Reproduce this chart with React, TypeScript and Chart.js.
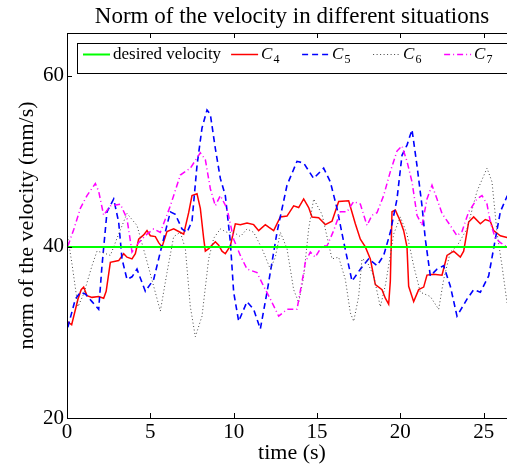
import { useEffect, useRef } from 'react';
import { Chart, registerables } from 'chart.js';

Chart.register(...registerables);

const titleText = 'Norm of the velocity in different situations';
const xTitle = 'time (s)';
const yTitle = 'norm of the velocity (mm/s)';
const seriesNames = ['desired velocity', 'C4', 'C5', 'C6', 'C7'];
const xTickValues = [0, 5, 10, 15, 20, 25];
const yTickValues = [20, 40, 60];

const desiredT = [0, 27];
const desiredV = [40, 40];

const c4T = [0, 0.28, 0.66, 0.85, 1.0, 1.2, 1.5, 1.9, 2.2, 2.35, 2.6, 3.1, 3.4, 3.6, 3.9, 4.1, 4.3, 4.6, 4.8, 5.0, 5.3, 5.5, 5.7, 6.0, 6.4, 6.7, 7.0, 7.3, 7.5, 7.8, 8.0, 8.2, 8.3, 8.5, 8.9, 9.1, 9.3, 9.5, 9.8, 10.1, 10.4, 10.8, 11.2, 11.5, 11.9, 12.1, 12.4, 12.8, 13.2, 13.6, 13.9, 14.2, 14.5, 14.7, 15.1, 15.5, 15.9, 16.3, 16.9, 17.3, 17.6, 17.9, 18.2, 18.5, 18.9, 19.1, 19.3, 19.4, 19.5, 19.7, 20.0, 20.2, 20.4, 20.5, 20.8, 21.1, 21.4, 21.6, 22.0, 22.5, 22.8, 23.2, 23.6, 23.8, 24.1, 24.4, 24.8, 25.1, 25.4, 25.6, 26.0, 26.4, 26.8];
const c4V = [31.3, 30.9, 33.9, 35.0, 35.3, 34.3, 34.1, 34.2, 34.0, 34.8, 38.2, 38.4, 39.2, 38.8, 38.6, 39.2, 40.9, 41.4, 41.9, 41.3, 41.2, 40.5, 40.0, 41.8, 42.1, 41.8, 41.5, 44.0, 46.0, 46.2, 44.5, 41.0, 39.5, 39.8, 40.6, 40.2, 39.5, 39.2, 40.1, 42.7, 42.6, 42.8, 42.6, 41.9, 42.6, 42.3, 41.9, 43.5, 43.6, 44.8, 44.6, 45.6, 44.6, 43.5, 43.4, 42.6, 43.0, 45.3, 45.4, 42.7, 40.9, 40.0, 38.6, 35.6, 35.0, 34.0, 33.3, 36.0, 44.1, 44.3, 43.0, 41.9, 40.0, 35.4, 33.6, 35.0, 35.3, 36.7, 36.8, 36.7, 39.0, 39.5, 38.8, 39.5, 42.9, 43.5, 42.7, 43.2, 43.0, 41.9, 41.3, 41.1, 41.0];

const c5T = [0.05, 0.5, 0.8, 1.1, 1.5, 1.9, 2.1, 2.4, 2.8, 3.1, 3.3, 3.6, 3.9, 4.2, 4.7, 5.2, 5.6, 6.2, 6.5, 6.9, 7.2, 7.5, 7.8, 8.1, 8.4, 8.6, 8.9, 9.2, 9.5, 9.8, 10.0, 10.3, 10.8, 11.2, 11.6, 12.0, 12.6, 13.2, 13.8, 14.2, 14.8, 15.4, 15.8, 16.2, 16.6, 17.1, 17.6, 18.1, 18.6, 19.0, 19.4, 19.8, 20.1, 20.4, 20.7, 21.0, 21.3, 21.5, 21.8, 22.2, 22.6, 23.0, 23.4, 24.0, 24.4, 24.8, 25.3, 25.7, 26.0, 26.4, 26.8];
const c5V = [30.6, 33.9, 34.7, 34.5, 33.6, 32.7, 37.8, 44.1, 45.6, 42.9, 38.6, 36.2, 36.5, 37.4, 34.8, 36.2, 39.4, 44.1, 43.8, 42.1, 41.7, 43.0, 49.5, 53.9, 56.0, 55.5, 51.5, 48.0, 46.0, 40.6, 34.7, 31.3, 33.6, 32.7, 30.4, 34.7, 41.7, 47.2, 50.0, 49.8, 48.0, 49.2, 47.6, 44.5, 40.6, 36.0, 37.4, 38.6, 37.8, 39.0, 41.7, 45.6, 50.7, 51.9, 53.7, 49.5, 44.8, 40.9, 36.6, 37.4, 37.8, 35.4, 31.9, 33.9, 35.0, 34.7, 36.6, 40.9, 44.1, 45.9, 47.0];

const c6T = [0, 0.3, 0.66, 1.0, 1.5, 1.8, 2.2, 2.6, 3.1, 3.6, 4.2, 4.7, 5.2, 5.6, 6.0, 6.4, 6.8, 7.1, 7.4, 7.7, 8.1, 8.5, 8.8, 9.2, 9.6, 10.0, 10.4, 10.8, 11.2, 11.7, 12.2, 12.5, 12.8, 13.2, 13.6, 13.9, 14.2, 14.5, 14.8, 15.3, 15.9, 16.3, 16.7, 17.0, 17.2, 17.5, 17.7, 18.0, 18.4, 18.8, 19.1, 19.4, 19.6, 20.0, 20.4, 20.8, 21.2, 21.8, 22.3, 22.6, 23.0, 23.4, 24.0, 24.6, 25.2, 25.5, 25.8, 26.1, 26.4, 26.8];
const c6V = [41.7, 38.0, 33.0, 34.5, 37.8, 39.5, 39.3, 39.0, 41.5, 43.9, 42.5, 39.0, 35.4, 32.5, 37.0, 41.2, 41.7, 39.8, 33.0, 29.5, 31.9, 38.6, 41.0, 42.1, 41.7, 41.7, 41.2, 42.1, 41.7, 39.8, 37.4, 38.8, 41.7, 39.8, 35.0, 33.5, 36.5, 42.1, 45.6, 43.8, 38.6, 38.8, 36.2, 32.3, 31.3, 34.2, 38.6, 38.3, 36.6, 33.0, 35.5, 39.0, 41.5, 43.5, 41.5, 37.8, 34.7, 34.2, 32.7, 36.2, 39.4, 40.1, 42.1, 46.5, 49.2, 47.6, 41.7, 37.8, 33.5, 31.0];

const c7T = [0.05, 0.4, 0.8, 1.2, 1.7, 1.9, 2.2, 2.6, 3.2, 3.6, 3.9, 4.3, 4.8, 5.2, 5.6, 6.2, 6.8, 7.4, 8.0, 8.3, 8.6, 8.9, 9.2, 9.6, 10.0, 10.4, 10.8, 11.4, 11.8, 12.2, 12.7, 13.2, 13.8, 14.2, 14.3, 14.6, 14.9, 15.3, 15.6, 16.0, 16.4, 16.8, 17.2, 17.6, 18.0, 18.3, 18.6, 19.0, 19.4, 19.8, 20.1, 20.4, 20.7, 21.0, 21.3, 21.6, 21.9, 22.2, 22.5, 23.0, 23.4, 23.7, 24.1, 24.6, 24.9, 25.2, 25.4, 25.7, 26.0, 26.4, 26.8];
const c7V = [40.1, 42.0, 44.5, 46.0, 47.4, 46.5, 43.7, 44.8, 45.0, 43.3, 39.4, 40.5, 41.5, 42.1, 41.7, 44.8, 48.4, 49.2, 51.0, 50.2, 46.8, 44.8, 46.0, 44.5, 40.9, 39.0, 37.4, 37.0, 35.4, 33.9, 31.9, 32.7, 32.7, 37.0, 38.2, 39.4, 38.8, 40.1, 40.1, 41.9, 44.1, 44.1, 45.3, 45.0, 42.5, 43.7, 44.0, 46.0, 48.8, 51.2, 51.8, 50.0, 47.6, 43.7, 42.5, 45.6, 47.2, 45.6, 43.9, 42.5, 41.3, 41.8, 44.1, 45.6, 46.0, 45.0, 42.9, 41.0, 40.5, 40.0, 39.5];

const pts = (t: number[], v: number[]) => t.map((x, i) => ({ x, y: v[i] }));

const SERIF = '"Liberation Serif", "Times New Roman", serif';

const legendPlugin = {
  id: 'boxLegend',
  afterDatasetsDraw(chart: any) {
    const { ctx, chartArea: a } = chart;
    const left = a.left + 10;
    const top = a.top + 10;
    const right = a.right - 10;
    const h = 30;
    ctx.save();
    ctx.fillStyle = '#fff';
    ctx.fillRect(left, top, right - left, h);
    ctx.strokeStyle = '#000';
    ctx.lineWidth = 1;
    ctx.strokeRect(left + 0.5, top + 0.5, right - left, h);
    let x = left + 6;
    const lineY = top + 11.5;
    const baseY = top + 16;
    chart.data.datasets.forEach((ds: any) => {
      ctx.save();
      ctx.strokeStyle = ds.borderColor;
      ctx.lineWidth = ds.borderWidth;
      ctx.setLineDash(ds.borderDash || []);
      ctx.beginPath();
      ctx.moveTo(x, lineY);
      ctx.lineTo(x + 27, lineY);
      ctx.stroke();
      ctx.restore();
      const tx = x + 30;
      ctx.fillStyle = '#000';
      ctx.textBaseline = 'alphabetic';
      ctx.textAlign = 'left';
      let w = 0;
      const m = /^C(\d)$/.exec(ds.label);
      if (m) {
        ctx.font = 'italic 17px ' + SERIF;
        ctx.fillText('C', tx, baseY);
        const cw = ctx.measureText('C').width;
        ctx.font = '12px ' + SERIF;
        ctx.fillText(m[1], tx + cw + 1, baseY + 4);
        w = cw + 1 + ctx.measureText(m[1]).width;
      } else {
        ctx.font = '17px ' + SERIF;
        ctx.fillText(ds.label, tx, baseY);
        w = ctx.measureText(ds.label).width;
      }
      x += Math.max(30 + w + 10, 71);
    });
    ctx.restore();
  },
};

const framePlugin = {
  id: 'frame',
  afterDraw(chart: any) {
    const { ctx, chartArea: a, scales } = chart;
    ctx.save();
    ctx.strokeStyle = '#000';
    ctx.lineWidth = 1;
    ctx.strokeRect(a.left + 0.5, a.top + 0.5, a.right - a.left, a.bottom - a.top);
    const L = 5;
    ctx.beginPath();
    scales.x.ticks.forEach((t: any) => {
      const px = Math.round(scales.x.getPixelForValue(t.value)) + 0.5;
      ctx.moveTo(px, a.bottom);
      ctx.lineTo(px, a.bottom - L);
      ctx.moveTo(px, a.top);
      ctx.lineTo(px, a.top + L);
    });
    scales.y.ticks.forEach((t: any) => {
      const py = Math.round(scales.y.getPixelForValue(t.value)) + 0.5;
      ctx.moveTo(a.left, py);
      ctx.lineTo(a.left + L, py);
      ctx.moveTo(a.right, py);
      ctx.lineTo(a.right - L, py);
    });
    ctx.stroke();
    ctx.restore();
  },
};

export default function App() {
  const ref = useRef<HTMLCanvasElement>(null);
  useEffect(() => {
    document.body.style.margin = '0';
    const chart = new Chart(ref.current as HTMLCanvasElement, {
      type: 'line',
      data: {
        datasets: [
          { label: seriesNames[0], data: pts(desiredT, desiredV), borderColor: '#00ff00', borderWidth: 2, order: 0 },
          { label: seriesNames[1], data: pts(c4T, c4V), borderColor: '#ff0000', borderWidth: 1.5, order: 4 },
          { label: seriesNames[2], data: pts(c5T, c5V), borderColor: '#0000ff', borderWidth: 1.6, borderDash: [6, 4], order: 3 },
          { label: seriesNames[3], data: pts(c6T, c6V), borderColor: '#444444', borderWidth: 1, borderDash: [1, 2.5], order: 2 },
          { label: seriesNames[4], data: pts(c7T, c7V), borderColor: '#ff00ff', borderWidth: 1.5, borderDash: [6, 3, 1, 3], order: 1 },
        ] as any,
      },
      options: {
        responsive: false,
        animation: false,
        events: [],
        elements: { point: { radius: 0 }, line: { tension: 0, fill: false } },
        layout: { padding: { left: 0, right: 10, top: 0, bottom: 0 } },
        plugins: {
          legend: { display: false },
          tooltip: { enabled: false },
          title: {
            display: true,
            text: titleText,
            fullSize: false,
            color: '#000',
            font: { family: SERIF, size: 23, weight: 'normal' },
            padding: { top: 3, bottom: 2.4 },
          },
        },
        scales: {
          x: {
            type: 'linear',
            min: 0,
            max: 27,
            afterFit: (s: any) => { s.height = 50; },
            afterBuildTicks: (s: any) => { s.ticks = xTickValues.map((value) => ({ value })); },
            grid: { display: false, drawTicks: false },
            border: { display: false },
            ticks: { color: '#000', padding: 2, maxRotation: 0, font: { family: SERIF, size: 21 } },
            title: { display: true, text: xTitle, color: '#000', padding: { top: 0, bottom: 2 }, font: { family: SERIF, size: 22 } },
          },
          y: {
            type: 'linear',
            min: 20,
            max: 65,
            afterFit: (s: any) => { s.width = 67; },
            afterBuildTicks: (s: any) => { s.ticks = yTickValues.map((value) => ({ value })); },
            grid: { display: false, drawTicks: false },
            border: { display: false },
            ticks: { color: '#000', padding: 3, font: { family: SERIF, size: 21 } },
            title: { display: true, text: yTitle, color: '#000', padding: { top: 14, bottom: 0 }, font: { family: SERIF, size: 22 } },
          },
        },
      },
      plugins: [legendPlugin, framePlugin],
    } as any);
    return () => chart.destroy();
  }, []);
  return (
    <div style={{ width: 507, height: 468, overflow: 'hidden', background: '#fff' }}>
      <canvas ref={ref} width={527} height={468} style={{ display: 'block', width: 527, height: 468 }} />
    </div>
  );
}
